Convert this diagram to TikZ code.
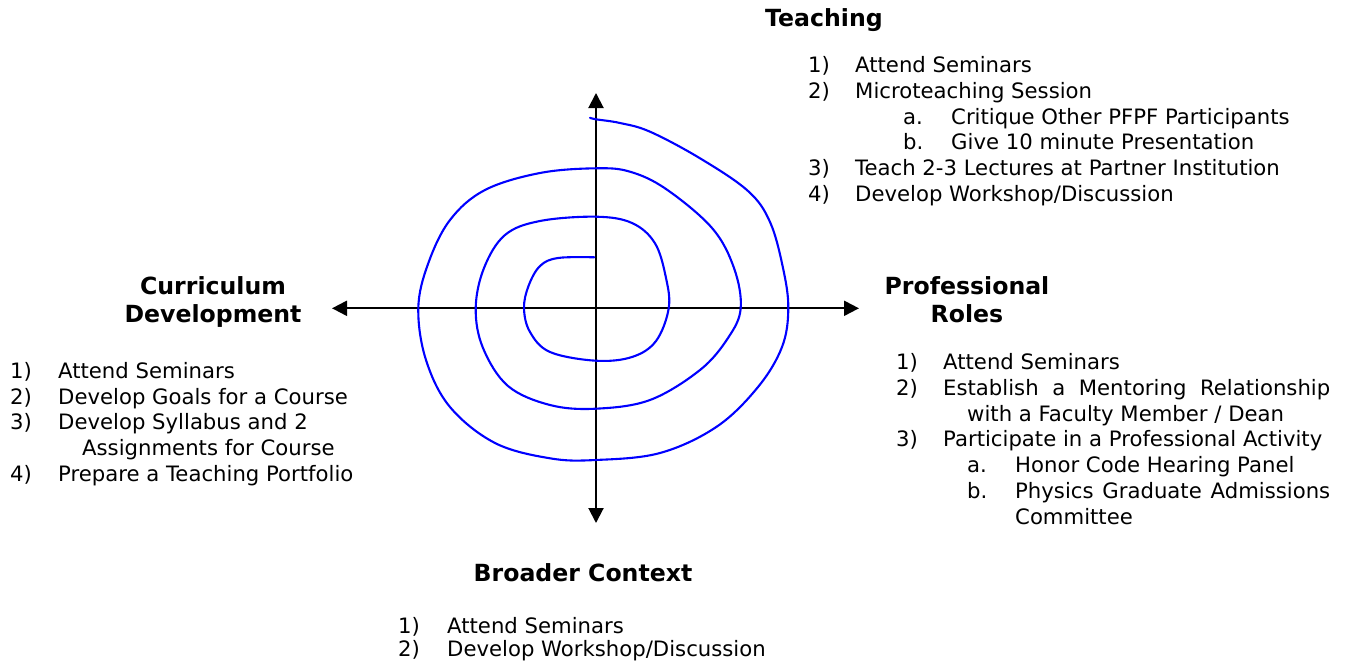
\documentclass[tikz,border=0pt]{standalone}
\usepackage{fontspec}
\setmainfont{DejaVu Sans}
\usetikzlibrary{arrows.meta}
\tikzset{
  itm/.style={anchor=base west, inner sep=0pt, font=\fontsize{21.2}{25.8}\selectfont},
  head/.style={anchor=base, inner sep=0pt, font=\bfseries\fontsize{23.6}{28}\selectfont},
  axis/.style={line width=2pt, {Triangle[length=15pt,width=15pt]}-{Triangle[length=15pt,width=15pt]}},
  spiral/.style={line width=2.1pt, color={rgb,255:red,0;green,0;blue,255}, line join=round, line cap=round}
}
\begin{document}
\begin{tikzpicture}[x=1pt,y=-1pt]
\useasboundingbox (0,0) rectangle (1348,661);
% axes
\coordinate (L) at (332,308.3);
\coordinate (R) at (859,308.3);
\coordinate (T) at (596,93);
\coordinate (B) at (596,523);
\draw[axis] (L) -- (R);
\draw[axis] (T) -- (B);
% spiral
\draw[spiral] plot[smooth, tension=0.6] coordinates {
(594.3,257.3) (558,258) (540,266) (528.5,286) (524,308.3)
(530,332) (550,352) (595.7,360.7)
(632,357) (656,341) (668.7,308.3)
(666,278) (655,243.3) (632,223) (596,216.7)
(540,221) (505,235) (484,268) (475.7,308.3)
(483,348) (508,386) (550,405) (595.7,408.7)
(650,400) (700,370) (728,338) (740.7,308.3)
(734,268) (712,228) (666,189) (630,171.7) (596,168.3)
(540,173) (485,190) (450,220) (428,264) (418.3,308.3)
(426,360) (450,407) (495,443) (550,458.3) (595.7,460)
(660,453) (716.7,426.7) (758,387) (782,347) (788.3,308.3)
(783,268) (770,222) (748,191) (700,158.3) (650,131.7)
(620,123) (596,119.3) (590,117.8)};
% Teaching
\node[head, anchor=base west] (tH) at (765,27) {Teaching};
\node[itm] (t1n) at (808,72.5) {1)};
\node[itm] (t1) at (855,72.5) {Attend Seminars};
\node[itm] (t2n) at (808,98.3) {2)};
\node[itm] (t2) at (855,98.3) {Microteaching Session};
\node[itm] (t2an) at (903,124.1) {a.};
\node[itm] (t2a) at (951,124.1) {Critique Other PFPF Participants};
\node[itm] (t2bn) at (903,149.9) {b.};
\node[itm] (t2b) at (951,149.9) {Give 10 minute Presentation};
\node[itm] (t3n) at (808,175.7) {3)};
\node[itm] (t3) at (855,175.7) {Teach 2-3 Lectures at Partner Institution};
\node[itm] (t4n) at (808,201.5) {4)};
\node[itm] (t4) at (855,201.5) {Develop Workshop/Discussion};
% Curriculum Development
\node[head] (cH1) at (213,294) {Curriculum};
\node[head] (cH2) at (213,322) {Development};
\node[itm] (c1n) at (10,378.3) {1)};
\node[itm] (c1) at (58,378.3) {Attend Seminars};
\node[itm] (c2n) at (10,404) {2)};
\node[itm] (c2) at (58,404) {Develop Goals for a Course};
\node[itm] (c3n) at (10,429.7) {3)};
\node[itm] (c3) at (58,429.7) {Develop Syllabus and 2};
\node[itm] (c3b) at (82,455.4) {Assignments for Course};
\node[itm] (c4n) at (10,481) {4)};
\node[itm] (c4) at (58,481) {Prepare a Teaching Portfolio};
% Professional Roles
\node[head] (pH1) at (967,294) {Professional};
\node[head] (pH2) at (967,322) {Roles};
\node[itm] (p1n) at (896,369.5) {1)};
\node[itm] (p1) at (943,369.5) {Attend Seminars};
\node[itm] (p2n) at (896,395.3) {2)};
\node[itm] (p2) at (943,395.3) {\makebox[387pt][s]{Establish a Mentoring Relationship}};
\node[itm] (p2b) at (967,421.1) {with a Faculty Member / Dean};
\node[itm] (p3n) at (896,446.9) {3)};
\node[itm] (p3) at (943,446.9) {Participate in a Professional Activity};
\node[itm] (p3an) at (967,472.7) {a.};
\node[itm] (p3a) at (1015,472.7) {Honor Code Hearing Panel};
\node[itm] (p3bn) at (967,498.5) {b.};
\node[itm] (p3b) at (1015,498.5) {\makebox[315pt][s]{Physics Graduate Admissions}};
\node[itm] (p3c) at (1015,524.3) {Committee};
% Broader Context
\node[head] (bH) at (583,581.5) {Broader Context};
\node[itm] (b1n) at (398,633) {1)};
\node[itm] (b1) at (447,633) {Attend Seminars};
\node[itm] (b2n) at (398,656) {2)};
\node[itm] (b2) at (447,656) {Develop Workshop/Discussion};
\end{tikzpicture}
\end{document}
